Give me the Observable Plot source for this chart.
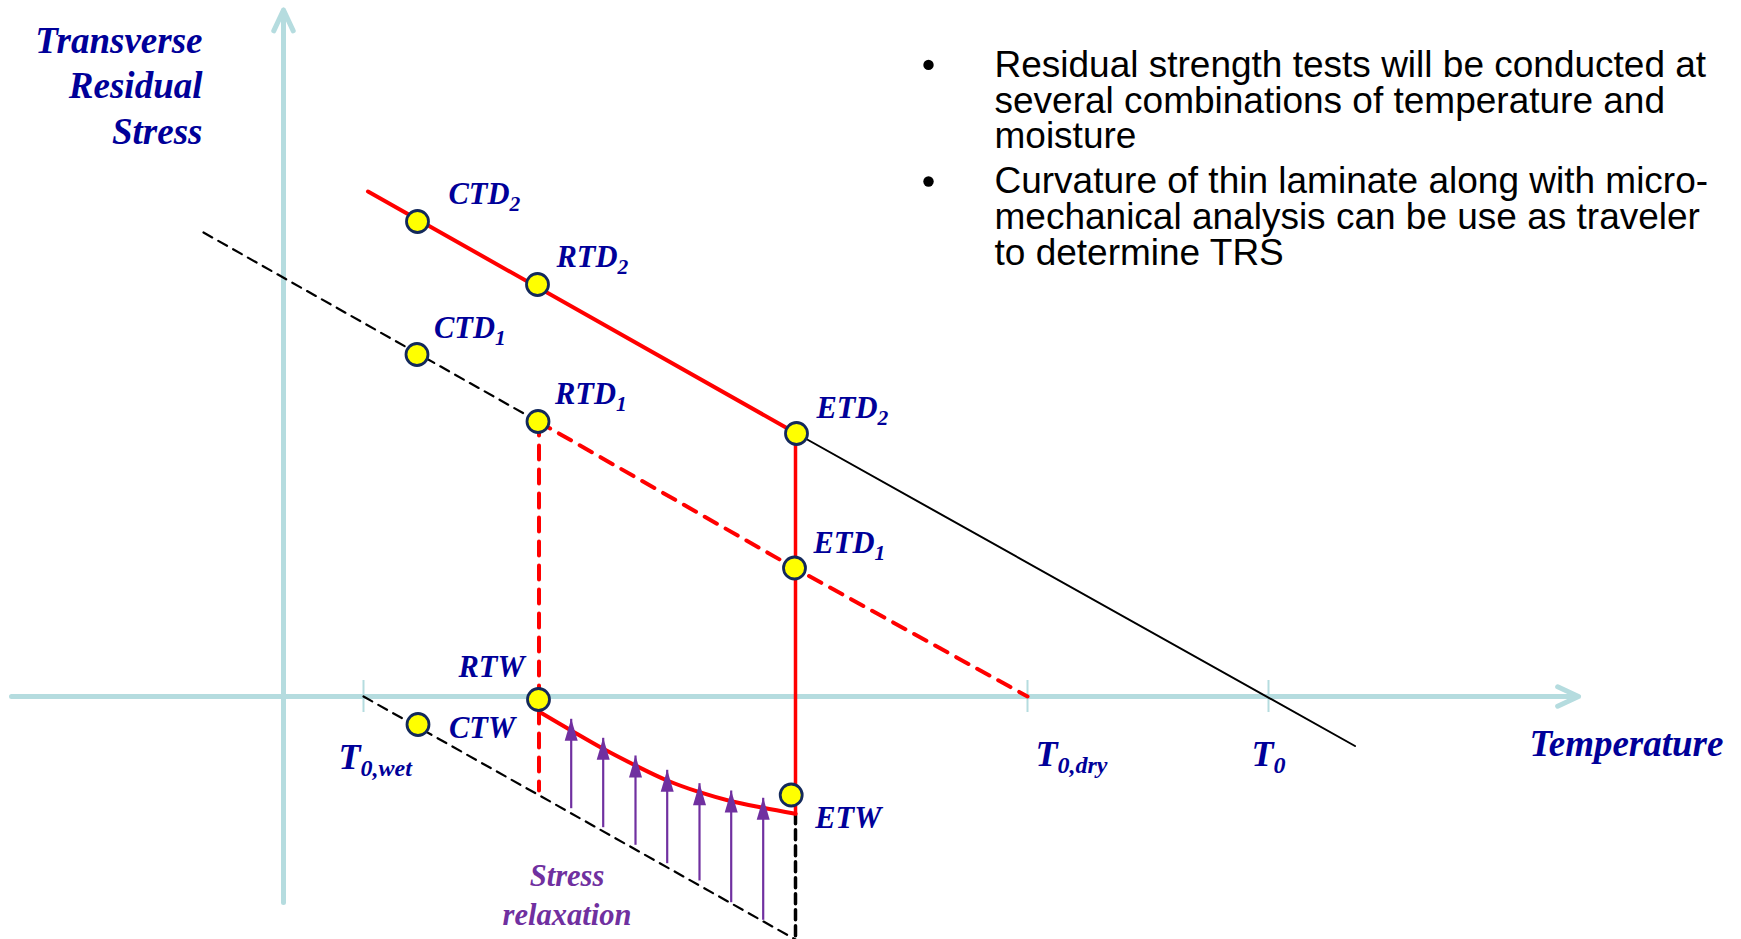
<!DOCTYPE html>
<html>
<head>
<meta charset="utf-8">
<script src="https://cdn.jsdelivr.net/npm/d3@7"></script>
<script src="https://cdn.jsdelivr.net/npm/@observablehq/plot@0.6"></script>
<style>
  html, body { margin: 0; padding: 0; background: #ffffff; }
  #chart svg { display: block; }
</style>
</head>
<body>
<div id="chart"></div>
<script>
// ---------------- DATA (schematic units: temperature, stress) ----------------
const pointNames  = ["CTD_2", "RTD_2", "ETD_2", "CTD_1", "RTD_1", "ETD_1", "CTW", "RTW", "ETW"];
const pointTemp   = [13.4, 25.4, 51.3, 13.35, 25.45, 51.1, 13.45, 25.5, 50.77];
const pointStress = [47.5, 41.2, 26.3, 34.2, 27.5, 12.85, -2.8, -0.3, -9.85];

// reference temperatures on the axis
const tickNames = ["T_0,wet", "T_0,dry", "T_0"];
const tickTemp  = [8.0, 74.4, 98.5];

// dry line 2 (red solid) and its extension to T0 (black)
const dry2Temp   = [8.45, 51.3];
const dry2Stress = [50.5, 26.3];
const dry2ExtTemp   = [51.3, 107.15];
const dry2ExtStress = [26.3, -4.95];

// dry line 1 (black dashed, then red dashed to T0,dry)
const dry1Temp   = [-8.0, 25.45];
const dry1Stress = [46.4, 27.5];
const dry1RedTemp   = [25.45, 51.1, 74.4];
const dry1RedStress = [27.5, 12.85, 0];

// wet line (black dashed from T0,wet)
const wetTemp   = [8.0, 51.2];
const wetStress = [0, -24.3];

// relaxed wet curve (red)
const curveTemp   = [25.7, 28.77, 31.97, 35.2, 38.37, 41.6, 44.77, 47.97, 51.2];
const curveStress = [-1.6, -3.4, -5.23, -6.9, -8.4, -9.57, -10.47, -11.13, -11.73];

// verticals
const etVertTemp = 51.2;
const etRedStress   = [26.3, -11.73];
const etBlackStress = [-11.73, -24.3];
const rtVertTemp = 25.55;
const rtRedStress   = [27.5, -9.4];

// stress relaxation arrows
const arrowTemp = [28.77, 31.97, 35.2, 38.37, 41.6, 44.77, 47.97];
const arrowFrom = [-11.17, -13.07, -14.83, -16.67, -18.4, -20.57, -22.33];
const arrowTo   = [-2.23, -4.13, -5.9, -7.33, -8.67, -9.4, -10.13];

// axes extents
const xAxisTemp = [-27.2, 129.5];
const yAxisStress = [-20.6, 68.65];

// texts
const yTitle = "Transverse\nResidual\nStress";
const xTitle = "Temperature";
const relaxText = "Stress\nrelaxation";
const bullet1 = "Residual strength tests will be conducted at\nseveral combinations of temperature and\nmoisture";
const bullet2 = "Curvature of thin laminate along with micro-\nmechanical analysis can be use as traveler\nto determine TRS";

// ---------------- LAYOUT (pixel offsets of labels) ----------------
const labelOffsets = {
  "CTD_2": [31, -18], "RTD_2": [19, -17.5], "ETD_2": [20, -15.5],
  "CTD_1": [17, -16.5], "RTD_1": [17, -18], "ETD_1": [19, -15.5],
  "CTW": [31, 13], "RTW": [-80, -23], "ETW": [24, 32.5]
};
const tickOffsets = {"T_0,wet": [-25, 72], "T_0,dry": [8, 69], "T_0": [-17, 69]};

// ---------------- BUILD ----------------
const table = (xs, ys) => xs.map((x, i) => ({x, y: ys[i]}));
const points = pointNames.map((name, i) => ({name, x: pointTemp[i], y: pointStress[i]}));
const ticks = tickNames.map((name, i) => ({name, x: tickTemp[i]}));
const arrows = arrowTemp.map((x, i) => ({x, y1: arrowFrom[i], y2: arrowTo[i]}));

const axisBlue = "#B5DCDF";
const navy = "#000099";
const purple = "#7030A0";
const serif = "'Liberation Serif', 'Times New Roman', serif";
const sans = "'Liberation Sans', Arial, sans-serif";

const arrowHead = {
  draw(context) {
    context.moveTo(0, 0);
    context.lineTo(6.5, 22);
    context.lineTo(-6.5, 22);
    context.closePath();
  }
};

const chart = Plot.plot({
  width: 1741,
  height: 939,
  margin: 0,
  x: {domain: [-28.3, 145.8], axis: null},
  y: {domain: [-24.3, 69.6], axis: null},
  style: {background: "white", overflow: "visible"},
  marks: [
    // axes
    Plot.arrow([{x1: 0, y1: yAxisStress[0], x2: 0, y2: yAxisStress[1]},
                {x1: xAxisTemp[0], y1: 0, x2: xAxisTemp[1], y2: 0}], {
      x1: "x1", y1: "y1", x2: "x2", y2: "y2",
      stroke: axisBlue, strokeWidth: 5, headAngle: 50, headLength: 6.9,
      strokeLinecap: "round", strokeLinejoin: "round"
    }),
    Plot.ruleX(ticks, {x: "x", y1: -1.6, y2: 1.6, stroke: axisBlue, strokeWidth: 2}),

    // black reference lines
    Plot.line(table(dry2ExtTemp, dry2ExtStress), {x: "x", y: "y", stroke: "black", strokeWidth: 2}),
    Plot.line(table(dry1Temp, dry1Stress), {x: "x", y: "y", stroke: "black", strokeWidth: 2.2, strokeDasharray: "10,7"}),
    Plot.line(table(wetTemp, wetStress), {x: "x", y: "y", stroke: "black", strokeWidth: 2.2, strokeDasharray: "10,7"}),
    Plot.line(table([etVertTemp, etVertTemp], etBlackStress), {x: "x", y: "y", stroke: "black", strokeWidth: 3.5, strokeDasharray: "10,6"}),

    // red lines
    Plot.line(table(dry2Temp, dry2Stress), {x: "x", y: "y", stroke: "#FF0000", strokeWidth: 4}),
    Plot.line(table(dry1RedTemp, dry1RedStress), {x: "x", y: "y", stroke: "#FF0000", strokeWidth: 4, strokeDasharray: "14,10"}),
    Plot.line(table([rtVertTemp, rtVertTemp], rtRedStress), {x: "x", y: "y", stroke: "#FF0000", strokeWidth: 4, strokeDasharray: "14,10"}),
    Plot.line(table([etVertTemp, etVertTemp], etRedStress), {x: "x", y: "y", stroke: "#FF0000", strokeWidth: 3.5}),
    Plot.line(table(curveTemp, curveStress), {x: "x", y: "y", stroke: "#FF0000", strokeWidth: 4, curve: "catmull-rom"}),

    // stress relaxation arrows
    Plot.link(arrows, {x1: "x", y1: "y1", x2: "x", y2: "y2", stroke: purple, strokeWidth: 2.2}),
    Plot.dot(arrows, {x: "x", y: "y2", symbol: arrowHead, r: 5, fill: purple, stroke: "none"}),

    // test points
    Plot.dot(points, {x: "x", y: "y", r: 11, fill: "#FFFF00", stroke: "#13295B", strokeWidth: 2.8}),

    // point labels
    ...points.map(p => Plot.text([p], {
      x: "x", y: "y", text: "name", dx: labelOffsets[p.name][0], dy: labelOffsets[p.name][1],
      textAnchor: "start", lineAnchor: "bottom", fill: navy,
      fontFamily: serif, fontStyle: "italic", fontWeight: "bold", fontSize: 30.5
    })),

    // tick labels
    ...ticks.map(t => Plot.text([t], {
      x: "x", y: 0, text: "name", dx: tickOffsets[t.name][0], dy: tickOffsets[t.name][1],
      textAnchor: "start", lineAnchor: "bottom", fill: navy,
      fontFamily: serif, fontStyle: "italic", fontWeight: "bold", fontSize: 36
    })),

    // axis titles
    Plot.text([yTitle], {x: -8.1, y: 55.3, text: d => d, textAnchor: "end", lineAnchor: "bottom", lineHeight: 1.22,
      fill: navy, fontFamily: serif, fontStyle: "italic", fontWeight: "bold", fontSize: 37}),
    Plot.text([xTitle], {x: 124.6, y: -5.9, text: d => d, textAnchor: "start", lineAnchor: "bottom",
      fill: navy, fontFamily: serif, fontStyle: "italic", fontWeight: "bold", fontSize: 37}),

    // stress relaxation label
    Plot.text([relaxText], {x: 28.35, y: -22.8, text: d => d, textAnchor: "middle", lineAnchor: "bottom", lineHeight: 1.25,
      fill: purple, fontFamily: serif, fontStyle: "italic", fontWeight: "bold", fontSize: 30.5}),

    // bullets
    Plot.dot([{x: 64.5, y: 63.16}, {x: 64.5, y: 51.5}], {x: "x", y: "y", r: 5.2, fill: "black"}),
    Plot.text([bullet1], {x: 71.1, y: 54.83, text: d => d, textAnchor: "start", lineAnchor: "bottom", lineHeight: 0.96,
      fill: "black", fontFamily: sans, fontSize: 37}),
    Plot.text([bullet2], {x: 71.1, y: 43.2, text: d => d, textAnchor: "start", lineAnchor: "bottom", lineHeight: 0.96,
      fill: "black", fontFamily: sans, fontSize: 37})
  ]
});

// subscripts: "ABC_sub" -> ABC<sub>
chart.querySelectorAll("text").forEach(el => {
  const s = el.textContent;
  if (el.children.length === 0 && s.includes("_")) {
    const [main, sub] = s.split("_");
    const isT = main === "T";
    el.textContent = main;
    const ts = document.createElementNS("http://www.w3.org/2000/svg", "tspan");
    ts.setAttribute("font-size", isT ? 24 : 21.5);
    ts.setAttribute("dy", 7);
    ts.textContent = sub;
    el.appendChild(ts);
  }
});

document.getElementById("chart").appendChild(chart);
</script>
</body>
</html>
